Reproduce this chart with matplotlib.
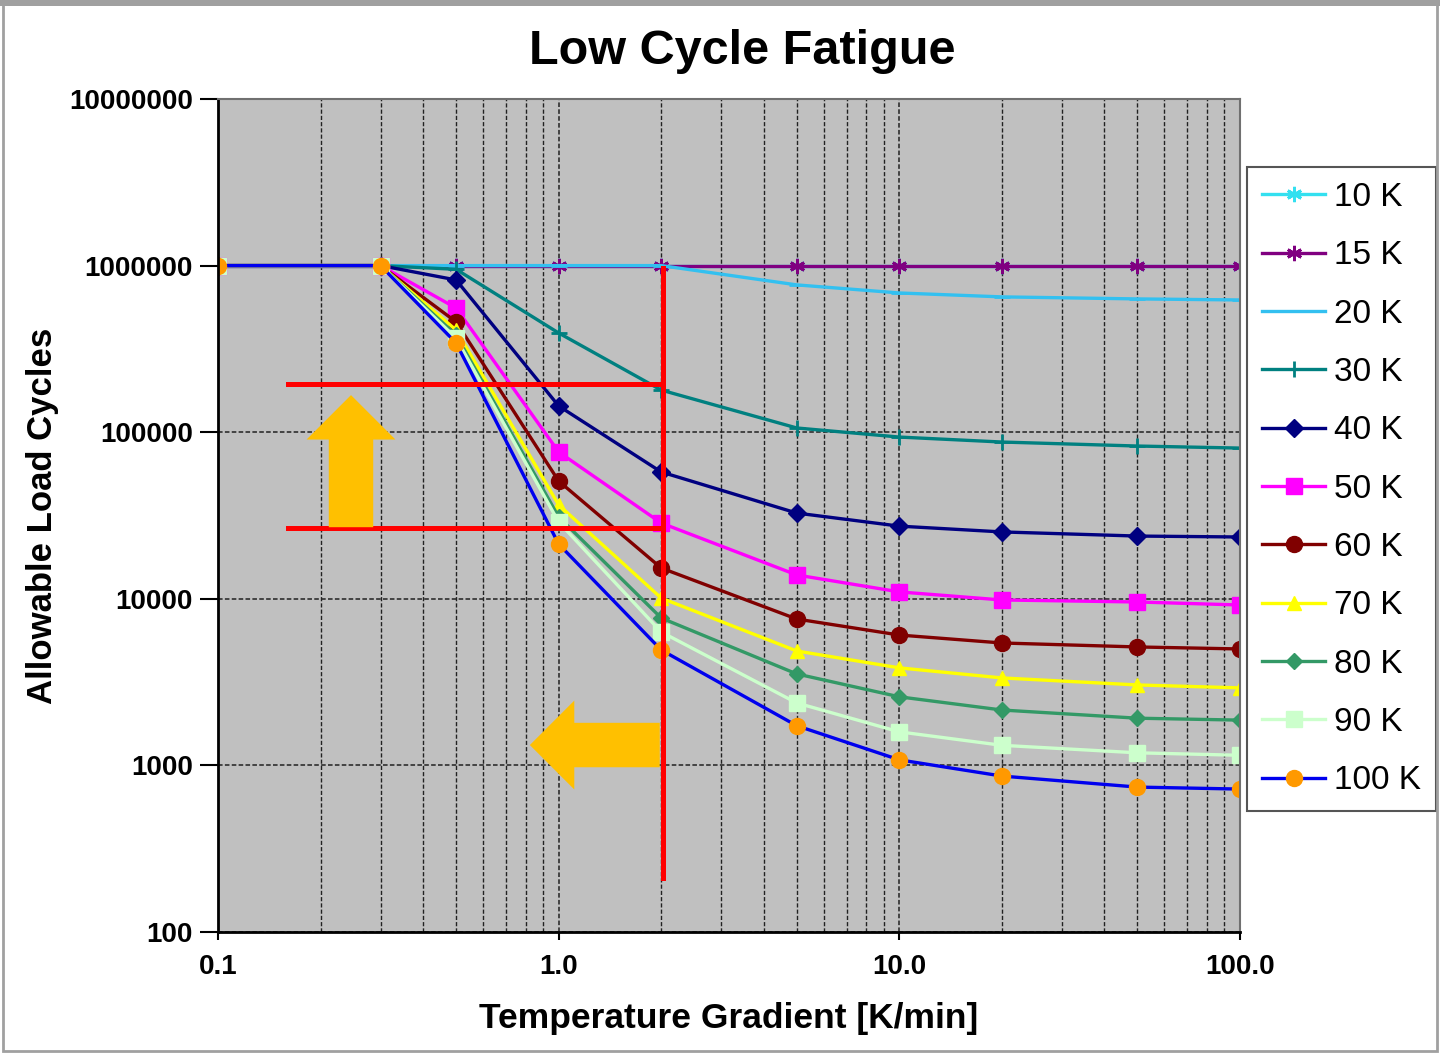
import matplotlib
matplotlib.use('Agg')
import matplotlib.pyplot as plt
from matplotlib.patches import Rectangle

plt.rcParams['font.family'] = ['Liberation Sans', 'DejaVu Sans']

# Temperature gradient [K/min]
gradient = [0.1, 0.3, 0.5, 1.0, 2.0, 5.0, 10.0, 20.0, 50.0, 100.0]

# Allowable load cycles per temperature difference
k10 = [1e6, 1e6, 1e6, 1e6, 1e6, 1e6, 1e6, 1e6, 1e6, 1e6]
k15 = [1e6, 1e6, 1e6, 1e6, 1e6, 1e6, 1e6, 1e6, 1e6, 1e6]
k20 = [1e6, 1e6, 1e6, 1e6, 1e6, 766000, 685000, 649000, 631000, 622000]
k30 = [1e6, 1e6, 950000, 394000, 179000, 106000, 93500, 87300, 82600, 80300]
k40 = [1e6, 1e6, 820000, 143700, 57700, 32700, 27300, 25200, 23800, 23500]
k50 = [1e6, 1e6, 556000, 76100, 28500, 13900, 11000, 9840, 9570, 9180]
k60 = [1e6, 1e6, 459000, 50900, 15300, 7560, 6060, 5430, 5140, 5000]
k70 = [1e6, 1e6, 410000, 36600, 10100, 4860, 3850, 3350, 3040, 2920]
k80 = [1e6, 1e6, 383000, 31000, 7670, 3540, 2580, 2150, 1920, 1870]
k90 = [1e6, 1e6, 367000, 28900, 6320, 2370, 1590, 1320, 1190, 1150]
k100 = [1e6, 1e6, 343000, 21300, 4930, 1730, 1080, 863, 741, 721]

labels = ['10 K', '15 K', '20 K', '30 K', '40 K', '50 K',
          '60 K', '70 K', '80 K', '90 K', '100 K']
series = [k10, k15, k20, k30, k40, k50, k60, k70, k80, k90, k100]

# (line colour, marker, marker face, marker size)
styles = [
    ('#33E0F0', (6, 2, 0), '#33E0F0', 11),
    ('#800080', (6, 2, 0), '#800080', 11),
    ('#33C0F0', '_', '#33C0F0', 12),
    ('#008080', '+', '#008080', 12),
    ('#000080', 'D', '#000080', 9),
    ('#FF00FF', 's', '#FF00FF', 12),
    ('#800000', 'o', '#800000', 11.5),
    ('#FFFF00', '^', '#FFFF00', 10),
    ('#339966', 'D', '#339966', 8),
    ('#CCFFCC', 's', '#CCFFCC', 11),
    ('#0000EE', 'o', '#FF9900', 11.5),
]

# overlay: red guide lines and orange arrows
guide_x = [0.16, 2.02]
guide_y = [194600, 26600]
guide_v = [968000, 211]

fig = plt.figure(figsize=(14.4, 10.53), dpi=100)
ax = fig.add_axes([218 / 1440, 1 - 932 / 1053, 1022 / 1440, 833 / 1053])
ax.set_facecolor('#C0C0C0')

for vals, lab, (col, mk, mfc, ms) in zip(series, labels, styles):
    mew = 2 if mk in ['+', '_', (6, 2, 0)] else 1
    ax.plot(gradient, vals, color=col, lw=2.4, marker=mk, markersize=ms,
            markerfacecolor=mfc, markeredgecolor=mfc, markeredgewidth=mew,
            label=lab)

ax.set_xscale('log')
ax.set_yscale('log')
ax.set_xlim(0.1, 100)
ax.set_ylim(100, 1e7)

ax.set_xticks([0.1, 1, 10, 100])
ax.set_xticklabels(['0.1', '1.0', '10.0', '100.0'])
ax.set_yticks([100, 1000, 10000, 100000, 1000000, 10000000])
ax.set_yticklabels(['100', '1000', '10000', '100000', '1000000', '10000000'])
ax.yaxis.set_minor_locator(matplotlib.ticker.NullLocator())
ax.tick_params(axis='x', which='minor', length=0)
ax.tick_params(axis='y', length=13, width=1.5, pad=5, labelsize=20)
ax.tick_params(axis='x', length=6, width=1.5, pad=10, labelsize=20)
for t in ax.get_xticklabels() + ax.get_yticklabels():
    t.set_fontweight('bold')

ax.grid(True, which='major', axis='both', color='#222222', lw=1.1,
        linestyle=(0, (3, 1.5)))
ax.grid(True, which='minor', axis='x', color='#222222', lw=1.0,
        linestyle=(0, (3, 1.5)))
ax.set_axisbelow(True)

for s in ['left', 'bottom']:
    ax.spines[s].set_linewidth(2)
    ax.spines[s].set_color('black')
for s in ['top', 'right']:
    ax.spines[s].set_linewidth(1.5)
    ax.spines[s].set_color('#707070')

# red guide lines
ax.plot([guide_x[0], guide_x[1]], [guide_y[0], guide_y[0]], color='#FF0000', lw=3.6, zorder=5)
ax.plot([guide_x[0], guide_x[1]], [guide_y[1], guide_y[1]], color='#FF0000', lw=3.6, zorder=5)
ax.plot([guide_x[1], guide_x[1]], guide_v, color='#FF0000', lw=3.6, zorder=5)

# orange arrows
arrow_style = 'simple,head_length=3.2,head_width=6.4,tail_width=3.2'
ax.annotate('', xy=(0.2457, 1.67e5), xytext=(0.2457, 2.69e4),
            arrowprops=dict(arrowstyle=arrow_style, color='#FFC000', lw=0,
                            shrinkA=0, shrinkB=0, mutation_scale=10), zorder=6)
ax.annotate('', xy=(0.823, 1325), xytext=(1.98, 1325),
            arrowprops=dict(arrowstyle=arrow_style, color='#FFC000', lw=0,
                            shrinkA=0, shrinkB=0, mutation_scale=10), zorder=6)

fig.text(742 / 1440, 1 - 52 / 1053, 'Low Cycle Fatigue', ha='center', va='center',
         fontsize=35, fontweight='bold')
ax.set_xlabel('Temperature Gradient [K/min]', fontsize=25.5, fontweight='bold', labelpad=16)
ax.set_ylabel('Allowable Load Cycles', fontsize=25, fontweight='bold', labelpad=7)

leg = ax.legend(loc='upper left', bbox_to_anchor=(1247 / 1440, 1 - 167 / 1053),
                bbox_transform=fig.transFigure, fontsize=24, frameon=True,
                fancybox=False, edgecolor='#555555', framealpha=1,
                labelspacing=0.82, handlelength=1.9, handletextpad=0.25,
                borderpad=0.45, borderaxespad=0)
leg.get_frame().set_linewidth(1.5)

# outer chart border
fig.patches.append(Rectangle((0.002, 0.002), 0.996, 0.994, transform=fig.transFigure,
                             fill=False, edgecolor='#A0A0A0', lw=2))
fig.patches.append(Rectangle((0.0, 0.994), 1.0, 0.006, transform=fig.transFigure,
                             facecolor='#A0A0A0', edgecolor='none'))

fig.savefig('out.png', dpi=100)
